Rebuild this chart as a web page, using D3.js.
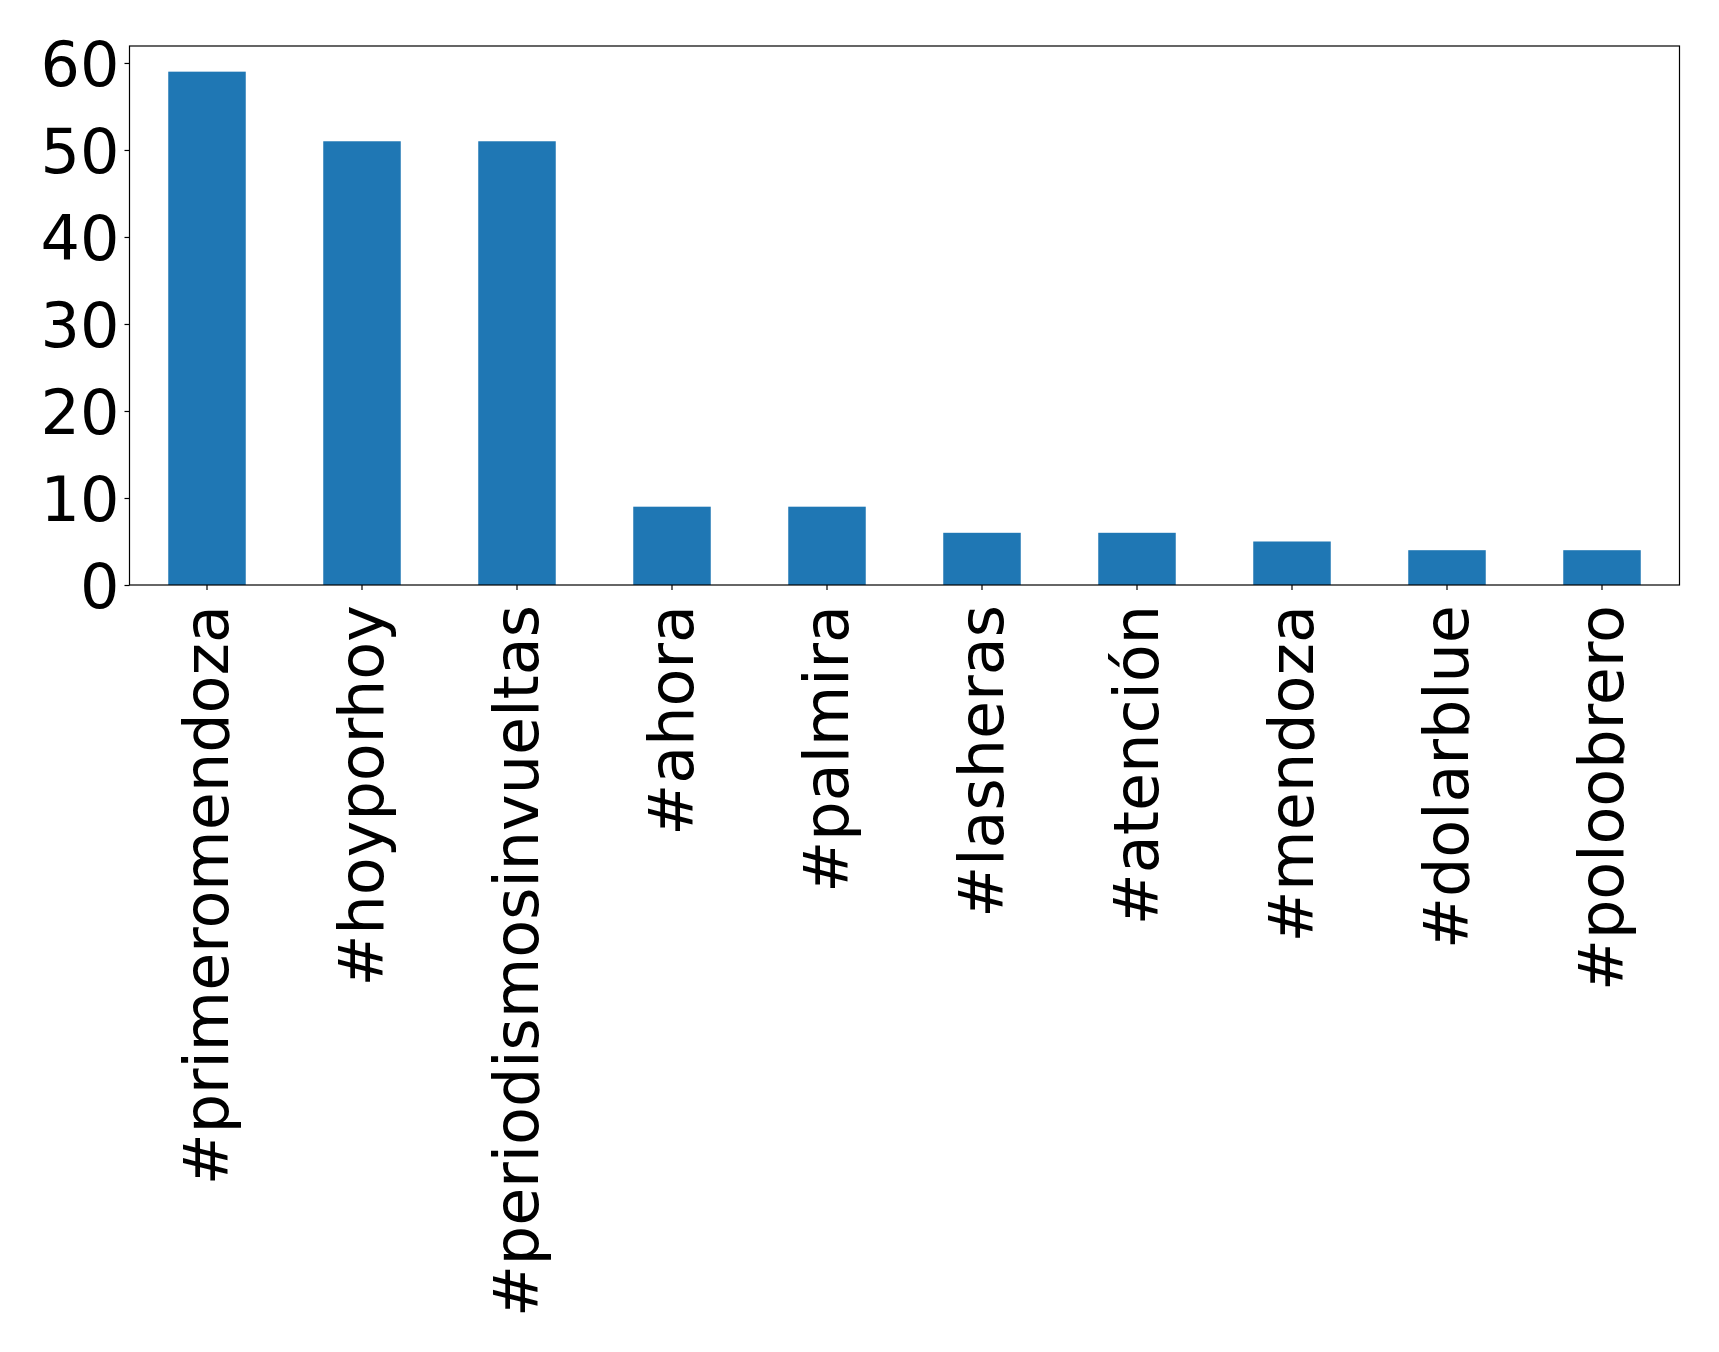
<!DOCTYPE html>
<html>
<head>
<meta charset="utf-8">
<script src="https://cdn.jsdelivr.net/npm/d3@7"></script>
<style>
  html, body { margin: 0; padding: 0; background: #fff; }
  svg { display: block; }
</style>
</head>
<body>
<svg id="chart" width="1719" height="1352"></svg>
<script>
const categories = ["#primeromendoza", "#hoyporhoy", "#periodismosinvueltas", "#ahora", "#palmira", "#lasheras", "#atención", "#mendoza", "#dolarblue", "#poloobrero"];
const values = [59, 51, 51, 9, 9, 6, 6, 5, 4, 4];
const yTicks = [0, 10, 20, 30, 40, 50, 60];

(function () {
const svg = d3.select("#chart");
const W = 1719, H = 1352;
svg.append("rect").attr("width", W).attr("height", H).attr("fill", "#fff");

const mLeft = 129.5, mRight = 1679.5, mTop = 46, mBottom = 585;
const fontSize = 62;
const font = "'DejaVu Sans', sans-serif";

const x = d3.scaleBand().domain(categories).range([mLeft, mRight]).paddingInner(0.5).paddingOuter(0.25);
const y = d3.scaleLinear().domain([0, d3.max(values) * 1.05]).range([mBottom, mTop]);

svg.append("g").selectAll("rect").data(categories).join("rect")
  .attr("x", d => x(d))
  .attr("width", x.bandwidth())
  .attr("y", (d, i) => y(values[i]))
  .attr("height", (d, i) => y(0) - y(values[i]))
  .attr("fill", "#1f77b4");

// frame
svg.append("rect")
  .attr("x", mLeft).attr("y", mTop)
  .attr("width", mRight - mLeft).attr("height", mBottom - mTop)
  .attr("fill", "none").attr("stroke", "#000").attr("stroke-width", 1.2);

// y axis
const yAxis = d3.axisLeft(y).tickValues(yTicks).tickSize(5).tickPadding(5).tickFormat(d3.format("d"));
const gy = svg.append("g").attr("transform", `translate(${mLeft},0)`).call(yAxis);
gy.select(".domain").remove();
gy.selectAll(".tick line").attr("stroke", "#000").attr("stroke-width", 1.2);
gy.selectAll(".tick text")
  .attr("font-family", font).attr("font-size", fontSize).attr("fill", "#000")
  .attr("dy", "0.36em");

// x axis
const xAxis = d3.axisBottom(x).tickSize(5).tickPadding(0);
const gx = svg.append("g").attr("transform", `translate(0,${mBottom})`).call(xAxis);
gx.select(".domain").remove();
gx.selectAll(".tick line").attr("stroke", "#000").attr("stroke-width", 1.2);
gx.selectAll(".tick text")
  .attr("font-family", font).attr("font-size", fontSize).attr("fill", "#000")
  .attr("text-anchor", "end")
  .attr("transform", "translate(0,20) rotate(-90)")
  .attr("x", 0).attr("y", 0)
  .attr("dy", "0.34em");
})();
</script>
</body>
</html>
